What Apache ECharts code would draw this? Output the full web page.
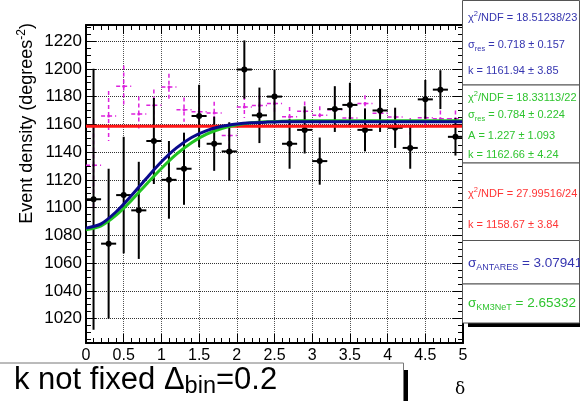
<!DOCTYPE html>
<html>
<head>
<meta charset="utf-8">
<script src="https://cdn.jsdelivr.net/npm/echarts/dist/echarts.min.js"></script>
<style>
html,body{margin:0;padding:0;background:#fff;}
#chart{width:580px;height:401px;}
</style>
</head>
<body>
<div id="chart"></div>
<script>
// ---- data ----
const binCenters = [0.1,0.3,0.5,0.7,0.9,1.1,1.3,1.5,1.7,1.9,2.1,2.3,2.5,2.7,2.9,3.1,3.3,3.5,3.7,3.9,4.1,4.3,4.5,4.7,4.9];
const densityVals = [1106,1074,1109,1098,1148,1120,1128,1166,1146,1140.5,1199.5,1166.5,1180,1146,1156,1133.5,1171,1174,1156,1170,1157.5,1143,1178,1185,1151];
const densityErrs = [94,54,42,35,31,28,26,22.5,19.5,21,21,20,19.5,18,17,17,16.5,16,15.5,15.5,14.5,15,14,14,13.5];
const altVals = [1130.5,1166,1187.4,1167.5,1173.7,1187,1170.6,1169,1168.2,1152,1172.5,1173.5,1175,1165.5,1169.5,1166.5,1170.5,1164.5,1175,1168,1165.3,1158.5,1164.8,1164,1164];
const altErrs = [33,18,15,12.6,11.4,9.5,8.8,8.5,8,9,8,7.5,7,7,7,6.5,6.5,6.5,6,6,6,6,6,6,6];
const fitX = [0,0.2,0.4,0.6,0.8,1.0,1.2,1.4,1.6,1.8,2.0,2.2,2.4,2.6,2.8,3.0,5.0];
const blueFit = [1085.2,1088.3,1097,1108.5,1121,1133,1143,1150.5,1155.5,1158.6,1160.3,1161.2,1161.6,1161.8,1161.9,1161.92,1161.94];
const greenFit = [1084,1086.8,1094.5,1105,1116.8,1128.2,1138.5,1146.8,1152.9,1157,1159.6,1161.1,1161.9,1162.3,1162.5,1162.6,1162.66];
const flatX = [0,5];
const flatFit = [1158.67,1158.67];

const FONT = 'Liberation Sans, Arial, Helvetica, sans-serif';
const chart = echarts.init(document.getElementById('chart'), null, {renderer:'canvas'});

function pair(xs, ys){ return xs.map((x,i)=>[x, ys[i]]); }
function triple(xs, ys, es){ return xs.map((x,i)=>[x, ys[i], es[i]]); }

function errRender(color, width, dash, r){
  return function(params, api){
    const x = api.value(0), v = api.value(1), e = api.value(2);
    const c = api.coord([x, v]);
    const t = api.coord([x, v + e]);
    const b = api.coord([x, v - e]);
    const l = api.coord([x - 0.1, v]);
    const rr = api.coord([x + 0.1, v]);
    const st = {stroke: color, lineWidth: width};
    if (dash) st.lineDash = dash;
    const ch = [
      {type:'line', shape:{x1:t[0],y1:t[1],x2:b[0],y2:b[1]}, style: st},
      {type:'line', shape:{x1:l[0],y1:l[1],x2:rr[0],y2:rr[1]}, style: Object.assign({}, st)}
    ];
    if (r) ch.push({type:'circle', shape:{cx:c[0], cy:c[1], r:r}, style:{fill: color}});
    return {type:'group', children: ch};
  };
}

const axisCommonX = {
  type:'value', min:0, max:5, interval:0.5,
  axisLine:{show:true, onZero:false, lineStyle:{color:'#000', width:2}},
  axisTick:{show:true, inside:true, length:9, lineStyle:{color:'#000', width:1}},
  minorTick:{show:true, splitNumber:5, length:5, lineStyle:{color:'#000', width:1}}
};
const axisCommonY = {
  type:'value', min:1002.4, max:1231.6, splitNumber:10,
  axisLine:{show:true, onZero:false, lineStyle:{color:'#000', width:2}},
  axisTick:{show:true, inside:true, length:10, lineStyle:{color:'#000', width:1}},
  minorTick:{show:true, splitNumber:4, length:5, lineStyle:{color:'#000', width:1}}
};

function boxText(x, y, text, color, size, subSize){
  return {
    type:'text', x:x, y:y, z:110,
    style:{
      text:text, fill:color, fontFamily:FONT, fontSize:size, verticalAlign:'middle', align:'left',
      rich:{
        n:{fontFamily:FONT, fontSize:size, fill:color, lineHeight:size+5},
        sub:{fontFamily:FONT, fontSize:subSize, fill:color, lineHeight:subSize, verticalAlign:'bottom'},
        sup:{fontFamily:FONT, fontSize:subSize, fill:color, lineHeight:subSize, verticalAlign:'top'}
      }
    }
  };
}

const BLUE_T = '#3535b0', GREEN_T = '#2fc42f', RED_T = '#ff3535';

const option = {
  animation:false,
  backgroundColor:'#fff',
  grid:{left:86, right:117, top:25, bottom:58, show:false},
  xAxis:[
    Object.assign({}, axisCommonX, {position:'bottom',
      splitLine:{show:true, lineStyle:{type:'dotted', color:'#555', width:1}},
      axisLabel:{show:true, color:'#000', fontSize:16, fontFamily:FONT, margin:5, formatter:(v)=>String(v)}}),
    Object.assign({}, axisCommonX, {position:'top', splitLine:{show:false}, axisLabel:{show:false}})
  ],
  yAxis:[
    Object.assign({}, axisCommonY, {position:'left',
      splitLine:{show:true, lineStyle:{type:'dotted', color:'#333', width:1}},
      axisLabel:{show:true, color:'#000', fontSize:17, fontFamily:FONT, margin:4, showMinLabel:false, showMaxLabel:false,
        formatter:(v)=>String(v)}}),
    Object.assign({}, axisCommonY, {position:'right', splitLine:{show:false}, axisLabel:{show:false}})
  ],
  series:[
    {type:'custom', name:'alt', xAxisIndex:0, yAxisIndex:0, clip:true,
     renderItem: errRender('#dd22dd', 1.5, [4,3], 1.5),
     encode:{x:0, y:1}, data: triple(binCenters, altVals, altErrs)},
    {type:'custom', name:'data', xAxisIndex:0, yAxisIndex:0, clip:true,
     renderItem: errRender('#000', 2, null, 3),
     encode:{x:0, y:1}, data: triple(binCenters, densityVals, densityErrs)},
    {type:'line', name:'flat', data: pair(flatX, flatFit), showSymbol:false, symbol:'none',
     lineStyle:{color:'#ff1515', width:3}},
    {type:'line', name:'green', data: pair(fitX, greenFit), showSymbol:false, symbol:'none', smooth:0.3,
     lineStyle:{color:'#22c422', width:3}},
    {type:'line', name:'blue', data: pair(fitX, blueFit), showSymbol:false, symbol:'none', smooth:0.3,
     lineStyle:{color:'#0a0a8c', width:3}}
  ],
  graphic:[
    // y axis title
    {type:'text', x:27, y:23, rotation:Math.PI/2, z:100,
     style:{text:'{n|Event density (degrees}{sup|-2}{n|)}', align:'right', verticalAlign:'middle', fill:'#000',
       fontFamily:FONT, fontSize:18,
       rich:{n:{fontFamily:FONT, fontSize:18, fill:'#000', lineHeight:23},
             sup:{fontFamily:FONT, fontSize:12, fill:'#000', lineHeight:12, verticalAlign:'top'}}}},
    // legend boxes
    {type:'rect', z:100, shape:{x:468, y:323, width:120, height:4}, style:{fill:'#000'}},
    {type:'rect', z:101, shape:{x:462.5, y:0.5, width:117, height:84.5}, style:{fill:'#fff', stroke:'#555', lineWidth:1}},
    {type:'rect', z:101, shape:{x:462.5, y:85, width:117, height:78}, style:{fill:'#fff', stroke:'#555', lineWidth:1}},
    {type:'rect', z:101, shape:{x:462.5, y:163, width:117, height:77.5}, style:{fill:'#fff', stroke:'#555', lineWidth:1}},
    {type:'rect', z:101, shape:{x:462.5, y:240.5, width:117, height:43.5}, style:{fill:'#fff', stroke:'#555', lineWidth:1}},
    {type:'rect', z:101, shape:{x:462.5, y:284, width:117, height:39}, style:{fill:'#fff', stroke:'#555', lineWidth:1}},
    boxText(468, 18, '{n|χ}{sup|2}{n|/NDF = 18.51238/23}', BLUE_T, 11, 7.5),
    boxText(468, 45, '{n|σ}{sub|res}{n| = 0.718 ± 0.157}', BLUE_T, 11, 7.5),
    boxText(468, 71, '{n|k = 1161.94 ± 3.85}', BLUE_T, 11, 7.5),
    boxText(468, 98, '{n|χ}{sup|2}{n|/NDF = 18.33113/22}', GREEN_T, 11, 7.5),
    boxText(468, 115, '{n|σ}{sub|res}{n| = 0.784 ± 0.224}', GREEN_T, 11, 7.5),
    boxText(468, 135.5, '{n|A = 1.227 ± 1.093}', GREEN_T, 11, 7.5),
    boxText(468, 155, '{n|k = 1162.66 ± 4.24}', GREEN_T, 11, 7.5),
    boxText(468, 194, '{n|χ}{sup|2}{n|/NDF = 27.99516/24}', RED_T, 11, 7.5),
    boxText(468, 225, '{n|k = 1158.67 ± 3.84}', RED_T, 11, 7.5),
    boxText(468, 263, '{n|σ}{sub|ANTARES}{n| = 3.07941}', BLUE_T, 13.5, 9),
    boxText(468, 303, '{n|σ}{sub|KM3NeT}{n| = 2.65332}', GREEN_T, 13.5, 9),
    // bottom label box
    {type:'rect', z:100, shape:{x:403.5, y:370, width:4.5, height:40}, style:{fill:'#000'}},
    {type:'rect', z:101, shape:{x:-2, y:363, width:405.5, height:50}, style:{fill:'#fff', stroke:'#777', lineWidth:1}},
    {type:'text', z:102, x:14, y:380,
     style:{text:'{n|k not fixed Δ}{sub|bin}{n|=0.2}', fill:'#000', fontFamily:FONT, fontSize:31, verticalAlign:'middle',
       rich:{n:{fontFamily:FONT, fontSize:31, fill:'#000', lineHeight:37},
             sub:{fontFamily:FONT, fontSize:23.5, fill:'#000', lineHeight:15, verticalAlign:'bottom'}}}},
    {type:'text', z:102, x:460, y:390,
     style:{text:'δ', fill:'#000', fontFamily:'DejaVu Serif, serif', fontSize:17, align:'center', verticalAlign:'middle'}}
  ]
};
chart.setOption(option);
</script>
</body>
</html>
